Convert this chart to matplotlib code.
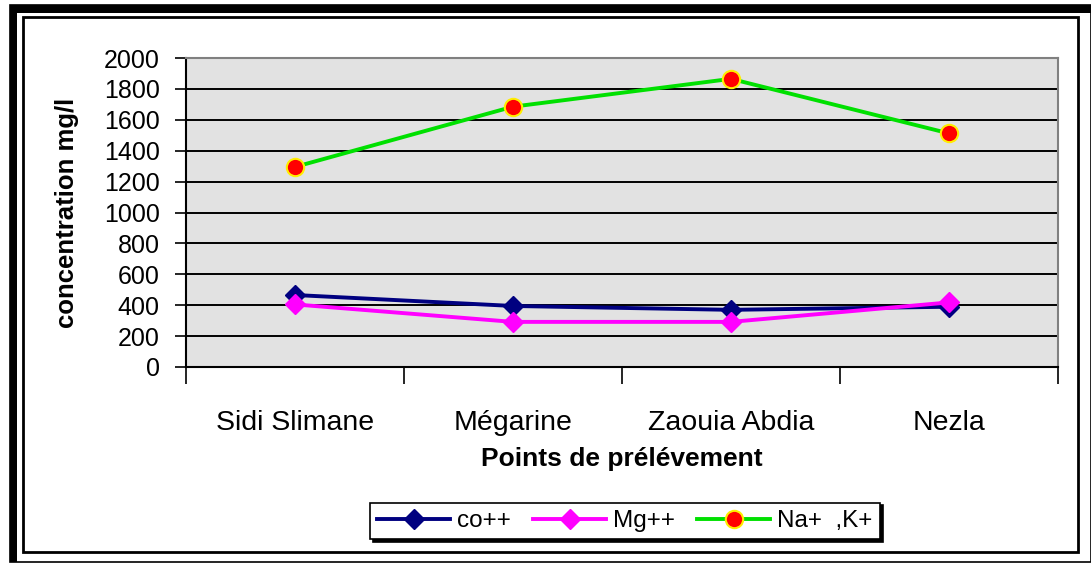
import matplotlib
matplotlib.use('Agg')
import matplotlib.pyplot as plt
from matplotlib.patches import Rectangle
import numpy as np

# data
points = ['Sidi Slimane', 'Mégarine', 'Zaouia Abdia', 'Nezla']
co = [466, 395, 370, 390]
mg = [405, 292, 292, 418]
nak = [1295, 1685, 1865, 1512]
yticks = [0, 200, 400, 600, 800, 1000, 1200, 1400, 1600, 1800, 2000]

plt.rcParams['font.family'] = ['Liberation Sans', 'DejaVu Sans']

W, H = 1091, 564
fig = plt.figure(figsize=(W/100, H/100), dpi=100)

# frames around the chart
fig.patches.append(Rectangle((10/W, 1-562/H), (1091-10)/W, (562-5)/H, transform=fig.transFigure,
                             fill=False, edgecolor='black', linewidth=1.2))
fig.patches.append(Rectangle((10/W, 1-562/H), 7/W, (562-5)/H, transform=fig.transFigure,
                             facecolor='black', edgecolor='none'))
fig.patches.append(Rectangle((10/W, 1-13/H), (1091-10)/W, 8/H, transform=fig.transFigure,
                             facecolor='black', edgecolor='none'))
fig.patches.append(Rectangle((23/W, 1-552/H), (1078-23)/W, (552-17)/H, transform=fig.transFigure,
                             fill=False, edgecolor='black', linewidth=2))

ax = fig.add_axes([186/W, 1-367/H, (1058-186)/W, (367-58)/H])
ax.set_facecolor('#e2e2e2')

x = np.arange(len(points))
ax.plot(x, co, color='#000080', linewidth=2.8, marker='D', markersize=10.5,
        markerfacecolor='#000080', markeredgecolor='#000080', label='co++', zorder=3)
ax.plot(x, mg, color='#ff00ff', linewidth=2.8, marker='D', markersize=10.5,
        markerfacecolor='#ff00ff', markeredgecolor='#ff00ff', label='Mg++', zorder=3)
ax.plot(x, nak, color='#00e000', linewidth=2.8, marker='o', markersize=12.5,
        markerfacecolor='#ff0000', markeredgecolor='#ffee00', markeredgewidth=1.5,
        label='Na+  ,K+', zorder=4)

ax.set_xlim(-0.5, len(points)-0.5)
ax.set_ylim(0, 2000)
ax.set_yticks(yticks)
ax.set_yticklabels([str(v) for v in yticks], fontsize=18)
ax.yaxis.grid(True, color='black', linewidth=1.4)
ax.set_axisbelow(True)

ax.set_xticks(np.arange(len(points)+1) - 0.5)
ax.set_xticklabels([])
ax.set_xticks(x, minor=True)
ax.set_xticklabels(points, minor=True, fontsize=20.5)
ax.tick_params(axis='x', which='minor', length=0, pad=31)
ax.tick_params(axis='x', which='major', length=12, width=1.2, direction='out')
ax.tick_params(axis='y', length=8, width=1.2, direction='out', pad=11)

for s in ['top', 'right']:
    ax.spines[s].set_color('#808080')
    ax.spines[s].set_linewidth(1.5)
ax.spines['left'].set_linewidth(1.5)
ax.spines['bottom'].set_linewidth(1.5)

ax.set_ylabel('concentration mg/l', fontsize=18.5, fontweight='bold', labelpad=18)
ax.set_xlabel('Points de prélévement', fontsize=19, fontweight='bold', labelpad=8)

leg = fig.legend(loc='center', bbox_to_anchor=(625/W, 1-521/H), ncol=3, fontsize=17.5,
                 frameon=True, fancybox=False, shadow={'color': 'black', 'alpha': 1},
                 edgecolor='black', handlelength=3.0, handletextpad=0.3,
                 columnspacing=0.9, borderpad=0.3)
leg.get_frame().set_linewidth(1.2)

fig.savefig('out.png', dpi=100)
